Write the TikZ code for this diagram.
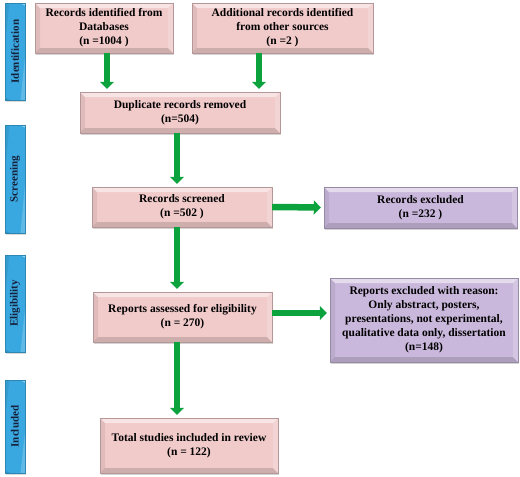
\documentclass[tikz,border=0pt]{standalone}
\usepackage{fontspec}
\setmainfont{Liberation Serif}
\usetikzlibrary{arrows.meta,shadows}
\definecolor{boxpink}{RGB}{241,202,202}
\definecolor{boxpurple}{RGB}{202,184,220}
\definecolor{tabblue}{RGB}{58,168,224}
\definecolor{tabtext}{RGB}{22,32,58}
\definecolor{flowgreen}{RGB}{12,162,62}

\tikzset{
  bevel/.style={path picture={
    \fill[white, opacity=.5] (path picture bounding box.north west) -- (path picture bounding box.north east)
      -- ([shift={(-5pt,-5pt)}]path picture bounding box.north east) -- ([shift={(5pt,-5pt)}]path picture bounding box.north west) -- cycle;
    \fill[black, opacity=.07] (path picture bounding box.north west) -- (path picture bounding box.south west)
      -- ([shift={(5pt,5pt)}]path picture bounding box.south west) -- ([shift={(5pt,-5pt)}]path picture bounding box.north west) -- cycle;
    \fill[black, opacity=.14] (path picture bounding box.south west) -- (path picture bounding box.south east)
      -- ([shift={(-5pt,5pt)}]path picture bounding box.south east) -- ([shift={(5pt,5pt)}]path picture bounding box.south west) -- cycle;
    \fill[white, opacity=.2] (path picture bounding box.north east) -- (path picture bounding box.south east)
      -- ([shift={(-5pt,5pt)}]path picture bounding box.south east) -- ([shift={(-5pt,-5pt)}]path picture bounding box.north east) -- cycle;
  }},
  stagebox/.style={draw=boxpink!75!black, line width=.4pt, fill=boxpink, bevel,
    drop shadow={opacity=.35, shadow xshift=1pt, shadow yshift=-2pt},
    inner sep=0pt, align=center},
  dropbox/.style={stagebox, draw=boxpurple!75!black, fill=boxpurple},
  phasetab/.style={fill=tabblue, draw=tabblue!80!black, bevel,
    drop shadow={opacity=.3, shadow xshift=1pt, shadow yshift=-1.5pt},
    rotate=90, minimum height=20pt, inner sep=0pt, text=tabtext,
    font=\fontsize{11}{13}\selectfont\bfseries},
  flow/.style={draw=flowgreen, line width=6.5pt,
    -{Triangle[width=14pt,length=7pt]}, shorten >=3pt}
}

\begin{document}
\begin{tikzpicture}[x=1pt, y=-1pt, font=\fontsize{11.5}{14}\selectfont\bfseries]
  \useasboundingbox (0,0) rectangle (520,477);
  % phase tabs on the left
  \node[phasetab, minimum width=97pt] (tabid) at (15,51.5) {Identification};
  \node[phasetab, minimum width=108pt] (tabsc) at (15,179) {Screening};
  \node[phasetab, minimum width=97pt] (tabel) at (15,303.5) {Eligibility};
  \node[phasetab, minimum width=93pt] (tabin) at (15,426.5) {Included};

  % main column
  \node[stagebox, minimum width=138pt, minimum height=50pt] (srcdb) at (104,28)
    {Records identified from\\Databases\\(n =1004 )};
  \node[stagebox, minimum width=181pt, minimum height=50pt] (srcother) at (282.5,28)
    {Additional records identified\\from other sources\\(n =2 )};
  \node[stagebox, minimum width=200pt, minimum height=41pt] (dup) at (180,112.5)
    {Duplicate records removed\\(n=504)};
  \node[stagebox, minimum width=180pt, minimum height=40pt] (screen) at (182,207)
    {Records screened\\(n =502 )};
  \node[stagebox, minimum width=179pt, minimum height=50pt] (assess) at (182.5,317)
    {Reports assessed for eligibility\\(n = 270)};
  \node[stagebox, minimum width=178pt, minimum height=55pt] (total) at (189,445.5)
    {Total studies included in review\\(n = 122)};

  % exclusions
  \node[dropbox, minimum width=193pt, minimum height=41pt] (excl) at (420.5,207.5)
    {Records excluded\\(n =232 )};
  \node[dropbox, minimum width=188pt, minimum height=84pt] (reason) at (424,320)
    {Reports excluded with reason:\\Only abstract, posters,\\presentations, not experimental,\\qualitative data only, dissertation\\(n=148)};

  % arrows
  \draw[flow] ([xshift=3pt]srcdb.south) -- ([xshift=3pt]srcdb.south |- dup.north);
  \draw[flow] ([xshift=-23.5pt]srcother.south) -- ([xshift=-23.5pt]srcother.south |- dup.north);
  \draw[flow] ([xshift=-3pt]dup.south) -- ([xshift=-3pt]dup.south |- screen.north);
  \draw[flow] (screen.east) -- (excl.west);
  \draw[flow] ([xshift=-5pt]screen.south) -- ([xshift=-5pt]screen.south |- assess.north);
  \draw[flow] ([yshift=4pt]assess.east) -- ([yshift=4pt]assess.east -| reason.west);
  \draw[flow] ([xshift=-5.5pt]assess.south) -- ([xshift=-5.5pt]assess.south |- total.north);
\end{tikzpicture}
\end{document}
